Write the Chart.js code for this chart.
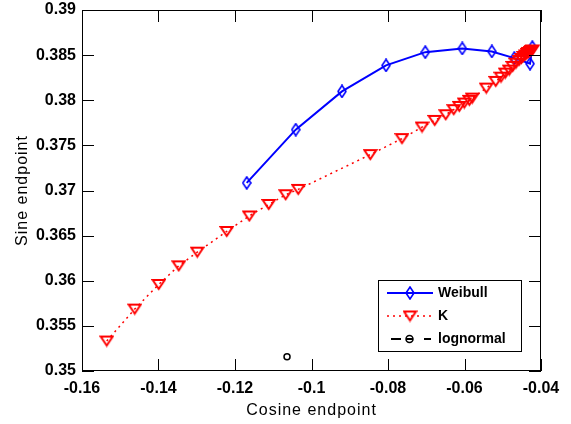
<!DOCTYPE html>
<html>
<head>
<meta charset="utf-8">
<script src="https://cdn.jsdelivr.net/npm/chart.js@4"></script>
<style>
html,body{margin:0;padding:0;background:#fff}
#wrap{width:571px;height:424px}
</style>
</head>
<body>
<div id="wrap"><canvas id="c" width="571" height="424"></canvas></div>
<script>
// endpoint traces
const weibullX=[-0.11694,-0.10413,-0.09203,-0.08052,-0.07025,-0.06058,-0.05285,-0.04698,-0.04287,-0.04227];
const weibullY=[0.37084,0.37674,0.38098,0.38386,0.38533,0.38574,0.38541,0.38467,0.38405,0.38588];

const kX=[-0.15354,-0.14622,-0.13995,-0.13472,-0.12986,-0.12217,-0.11626,-0.11119,-0.10675,-0.10348,
  -0.08463,-0.07634,-0.07111,-0.06779,-0.06491,-0.06282,-0.06136,-0.06005,-0.05874,-0.05796,
  -0.05430,-0.05184,-0.05046,-0.04933,-0.04829,-0.04740,-0.04654,-0.04575,-0.04510,-0.04457,
  -0.04405,-0.04366,-0.04327,-0.04287,-0.04248,-0.04222];
const kY=[0.35332,0.35686,0.35959,0.36165,0.36317,0.36546,0.36718,0.36845,0.36953,0.37012,
  0.37398,0.37575,0.37703,0.37777,0.37840,0.37896,0.37932,0.37969,0.37999,0.38024,
  0.38135,0.38209,0.38256,0.38301,0.38334,0.38375,0.38411,0.38441,0.38463,0.38485,
  0.38502,0.38519,0.38530,0.38541,0.38552,0.38557];

const lognormalX=[-0.10640];
const lognormalY=[0.35158];

const xTicks=[-0.16,-0.14,-0.12,-0.1,-0.08,-0.06,-0.04];
const yTicks=[0.35,0.355,0.36,0.365,0.37,0.375,0.38,0.385,0.39];

const FONT='"Liberation Sans", Arial, sans-serif';

function pts(xs,ys){return xs.map((v,i)=>({x:v,y:ys[i]}));}

// marker sprites (tall diamond, downward triangle)
function sprite(w,h,draw){
  const c=document.createElement('canvas');c.width=w;c.height=h;
  const g=c.getContext('2d');draw(g);return c;
}
const diamond=sprite(10,14,g=>{
  g.strokeStyle='#0000ff';g.lineWidth=1.6;
  g.beginPath();g.moveTo(5,1);g.lineTo(9,7);g.lineTo(5,13);g.lineTo(1,7);g.closePath();g.stroke();
});
const triDown=sprite(15,13,g=>{
  g.strokeStyle='#ff0000';g.lineWidth=2;g.lineJoin='miter';
  g.beginPath();g.moveTo(1.5,2);g.lineTo(13.5,2);g.lineTo(7.5,11);g.closePath();g.stroke();
});

const boxTicks={
  id:'boxTicks',
  afterDatasetsDraw(chart){
    const {ctx,chartArea:a,scales:{x,y}}=chart;
    ctx.save();
    ctx.strokeStyle='#000';ctx.lineWidth=1;
    ctx.strokeRect(a.left+0.5,a.top+0.5,a.right-a.left-1,a.bottom-a.top-1);
    const len=12;
    ctx.beginPath();
    xTicks.forEach(v=>{
      const p=Math.round(x.getPixelForValue(v))+0.5;
      ctx.moveTo(p,a.bottom);ctx.lineTo(p,a.bottom-len);
      ctx.moveTo(p,a.top);ctx.lineTo(p,a.top+len);
    });
    yTicks.forEach(v=>{
      const p=Math.round(y.getPixelForValue(v))+0.5;
      ctx.moveTo(a.left,p);ctx.lineTo(a.left+len,p);
      ctx.moveTo(a.right,p);ctx.lineTo(a.right-len,p);
    });
    ctx.stroke();

    // axis titles
    ctx.fillStyle='#000';ctx.font='16px '+FONT;ctx.letterSpacing='1px';
    ctx.textAlign='center';ctx.textBaseline='alphabetic';
    ctx.fillText('Cosine endpoint',(a.left+a.right)/2,415);
    ctx.save();
    ctx.translate(27,(a.top+a.bottom)/2);ctx.rotate(-Math.PI/2);
    ctx.fillText('Sine endpoint',0,0);
    ctx.restore();
    ctx.letterSpacing='0px';

    // legend box
    const lx=378.5,ly=280.5,lw=143,lh=71;
    ctx.fillStyle='#fff';ctx.fillRect(lx,ly,lw,lh);
    ctx.strokeRect(lx,ly,lw,lh);
    const x0=387,x1=433,xm=410,tx=438;
    const rows=[293,316,339];
    ctx.font='bold 14px '+FONT;ctx.textBaseline='middle';ctx.textAlign='left';

    ctx.strokeStyle='#0000ff';ctx.lineWidth=2;
    ctx.beginPath();ctx.moveTo(x0,rows[0]);ctx.lineTo(x1,rows[0]);ctx.stroke();
    ctx.drawImage(diamond,xm-5,rows[0]-7);
    ctx.fillStyle='#000';ctx.fillText('Weibull',tx,rows[0]);

    ctx.strokeStyle='#ff0000';ctx.lineWidth=1.5;ctx.setLineDash([2,4]);
    ctx.beginPath();ctx.moveTo(x0,rows[1]);ctx.lineTo(x1,rows[1]);ctx.stroke();
    ctx.setLineDash([]);
    ctx.drawImage(triDown,xm-7.5,rows[1]-6.5);
    ctx.fillText('K',tx,rows[1]);

    // dashed line sample: dash, circle with dash through it, dash
    ctx.strokeStyle='#000';ctx.lineWidth=2;
    ctx.beginPath();
    ctx.moveTo(391,rows[2]);ctx.lineTo(401,rows[2]);
    ctx.moveTo(406,rows[2]);ctx.lineTo(413,rows[2]);
    ctx.moveTo(424,rows[2]);ctx.lineTo(431,rows[2]);
    ctx.stroke();
    ctx.lineWidth=1.5;
    ctx.beginPath();ctx.arc(409.5,rows[2],3.5,0,Math.PI*2);ctx.stroke();
    ctx.fillStyle='#000';ctx.fillText('lognormal',tx,rows[2]);
    ctx.restore();
  }
};

const fmt=v=>String(Number(v.toFixed(3)));

new Chart(document.getElementById('c'),{
  type:'scatter',
  data:{datasets:[
    {label:'Weibull',data:pts(weibullX,weibullY),showLine:true,borderColor:'#0000ff',borderWidth:2,
     pointStyle:diamond,pointRadius:5,order:3},
    {label:'K',data:pts(kX,kY),showLine:true,borderColor:'#ff0000',borderWidth:1.5,borderDash:[2,4],
     pointStyle:triDown,pointRadius:6,order:2},
    {label:'lognormal',data:pts(lognormalX,lognormalY),showLine:false,borderColor:'#000',
     pointStyle:'circle',pointRadius:3,pointBorderWidth:1.5,pointBackgroundColor:'#fff',order:1}
  ]},
  options:{
    responsive:false,animation:false,devicePixelRatio:1,
    layout:{padding:{top:10,right:30,left:0,bottom:0}},
    plugins:{legend:{display:false},tooltip:{enabled:false}},
    scales:{
      x:{type:'linear',min:-0.16,max:-0.04,
        afterBuildTicks:s=>{s.ticks=xTicks.map(v=>({value:v}));},
        afterFit:s=>{s.height=53;s.paddingLeft=0;s.paddingRight=0;},
        grid:{display:false,drawTicks:false},border:{display:false},
        ticks:{padding:8,color:'#000',font:{family:FONT,size:16,weight:'bold'},callback:fmt,maxRotation:0,autoSkip:false}
      },
      y:{type:'linear',min:0.35,max:0.39,
        afterBuildTicks:s=>{s.ticks=yTicks.map(v=>({value:v}));},
        afterFit:s=>{s.width=82;s.paddingTop=0;s.paddingBottom=0;},
        grid:{display:false,drawTicks:false},border:{display:false},
        ticks:{padding:6,color:'#000',font:{family:FONT,size:16,weight:'bold'},callback:fmt,autoSkip:false}
      }
    }
  },
  plugins:[boxTicks]
});
</script>
</body>
</html>
